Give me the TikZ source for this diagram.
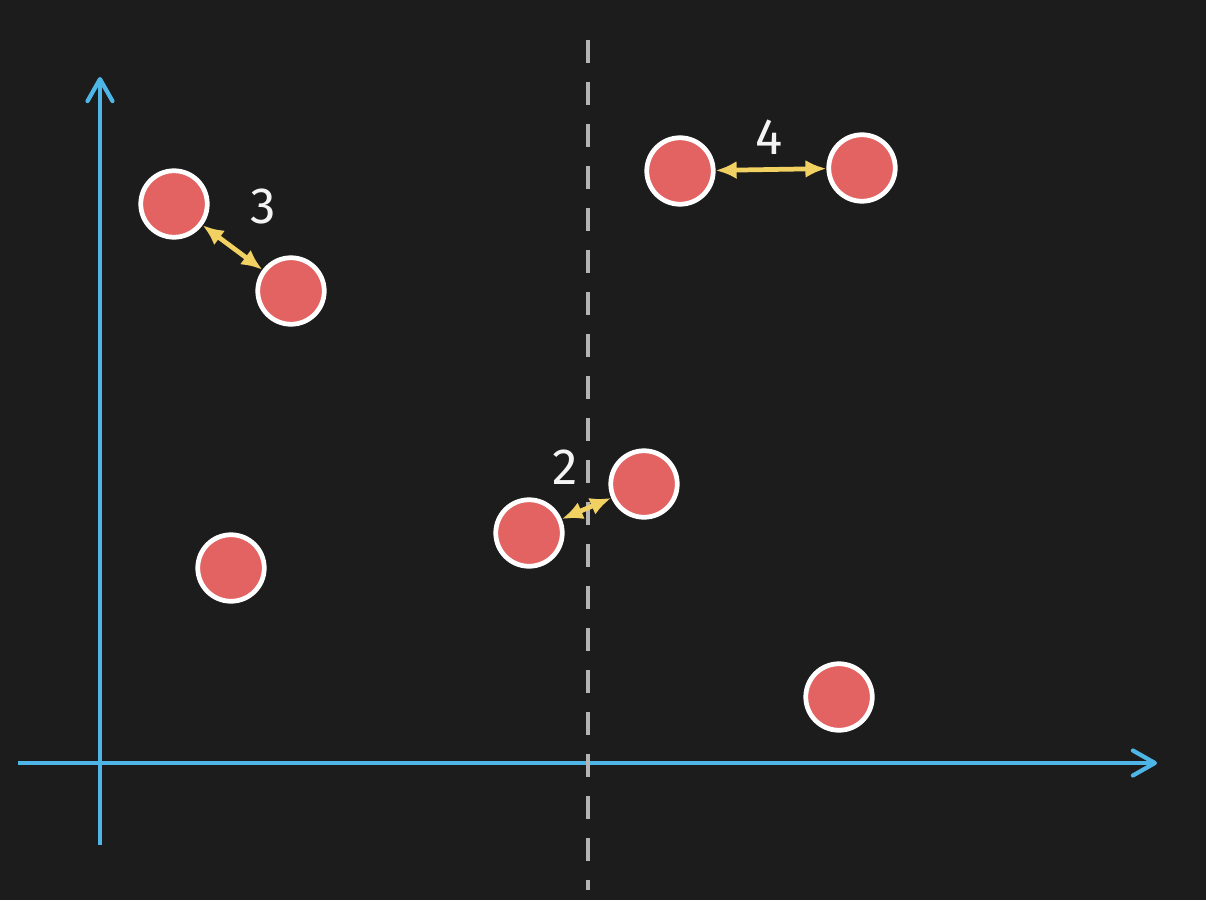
\documentclass[tikz,border=0pt]{standalone}
\usepackage{fontspec}
\setmainfont{Fira Sans}
\usepackage{tikz}
\usetikzlibrary{positioning, arrows.meta}
\definecolor{board}{HTML}{1C1C1C}
\definecolor{axis}{HTML}{4DB6E6}
\definecolor{split}{HTML}{B4B4B4}
\definecolor{point}{HTML}{E36262}
\definecolor{gap}{HTML}{F2D163}
\definecolor{chalk}{HTML}{F4F4F4}
\tikzset{
  dot/.style     = {circle, draw=white, line width=1.35pt, fill=point,
                    minimum size=0.665cm, inner sep=0pt},
  axisline/.style= {-{Straight Barb[length=2.2mm, width=2.5mm, line cap=round, line join=round]},
                    draw=axis, line width=1.2pt},
  splitline/.style={draw=split, line width=1.4pt, dash pattern=on 2.3mm off 1.9mm},
  gaparrow/.style= {{Latex[length=2.1mm,width=1.8mm]}-{Latex[length=2.1mm,width=1.8mm]},
                    draw=gap, line width=1.35pt},
  num/.style     = {text=chalk, font=\fontsize{14.5}{16}\selectfont, inner sep=0pt},
}
\begin{document}
\begin{tikzpicture}[x=0.1mm, y=-0.1mm]

  % ----- board -----
  \fill[board] (0,0) rectangle (1206,900);
  \useasboundingbox (0,0) rectangle (1206,900);

  % ----- axes -----
  \coordinate (ybot) at (100,845);
  \coordinate (ytop) at (100,77);
  \coordinate (xleft) at (18,763);
  \coordinate (xright) at (1157,763);
  \draw[axisline] (ybot) -- (ytop);
  \draw[axisline] (xleft) -- (xright);

  % ----- split line -----
  \coordinate (stop) at (588,40);
  \coordinate (sbot) at (588,890);
  \draw[splitline] (stop) -- (sbot);

  % ----- points -----
  \node[dot] (p3a) at (174,204) {};
  \node[dot] (p3b) at (291,291) {};
  \node[dot] (p4a) at (680,171) {};
  \node[dot] (p4b) at (862,168) {};
  \node[dot] (p2a) at (529,533) {};
  \node[dot] (p2b) at (644,484) {};
  \node[dot] (pl) at (231,568) {};
  \node[dot] (pr) at (839,697) {};

  % ----- distances -----
  \draw[gaparrow] (p3a) -- (p3b);
  \draw[gaparrow] (p4a) -- (p4b);
  \draw[gaparrow] (p2a) -- (p2b);

  \node[num] (d3) at (263,207) {3};
  \node[num] (d4) at (769,137) {4};
  \node[num] (d2) at (565,467) {2};

\end{tikzpicture}
\end{document}
